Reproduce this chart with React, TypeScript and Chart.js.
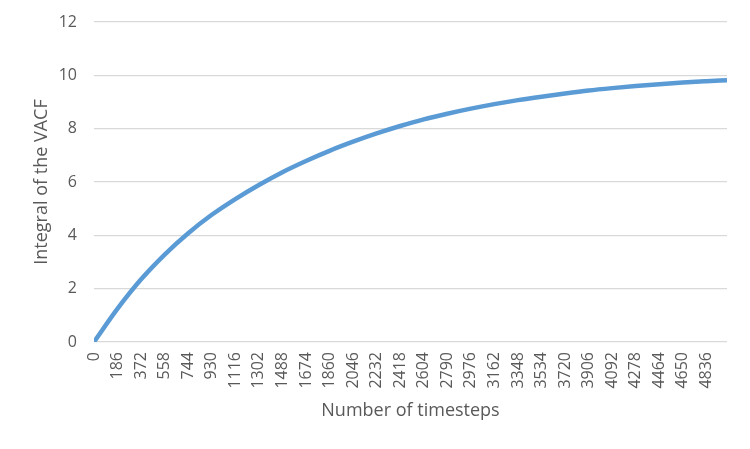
import React, { useEffect, useRef } from "react";
import { Chart, registerables } from "chart.js";

Chart.register(...registerables);

const timesteps = [0, 186, 372, 558, 744, 930, 1116, 1302, 1488, 1674, 1860, 2046, 2232, 2418, 2604, 2790, 2976, 3162, 3348, 3534, 3720, 3906, 4092, 4278, 4464, 4650, 4836, 4999];
const vacfIntegral = [0, 1.25, 2.35, 3.28, 4.08, 4.77, 5.36, 5.89, 6.37, 6.79, 7.17, 7.51, 7.82, 8.10, 8.35, 8.56, 8.75, 8.92, 9.07, 9.20, 9.32, 9.43, 9.52, 9.60, 9.67, 9.73, 9.78, 9.82];
const xTickLabels = [0, 186, 372, 558, 744, 930, 1116, 1302, 1488, 1674, 1860, 2046, 2232, 2418, 2604, 2790, 2976, 3162, 3348, 3534, 3720, 3906, 4092, 4278, 4464, 4650, 4836];
const yTickValues = [0, 2, 4, 6, 8, 10, 12];

const FONT = "'Open Sans', 'Noto Sans', sans-serif";
const TXT = "#595959";

export default function App() {
  const ref = useRef<HTMLCanvasElement>(null);
  useEffect(() => {
    document.body.style.margin = "0";
    const canvas = ref.current;
    if (!canvas) return;
    const chart = new Chart(canvas, {
      type: "line",
      data: {
        datasets: [
          {
            data: timesteps.map((t, i) => ({ x: t, y: vacfIntegral[i] })),
            borderColor: "#5B9BD5",
            borderWidth: 4.5,
            pointRadius: 0,
            cubicInterpolationMode: "monotone",
            fill: false,
          },
        ],
      },
      options: {
        animation: false,
        responsive: false,
        maintainAspectRatio: false,
        layout: { padding: { top: 22, right: 23, bottom: 0, left: 0 } },
        plugins: { legend: { display: false }, tooltip: { enabled: false } },
        scales: {
          x: {
            type: "linear",
            min: 0,
            max: 4999,
            grid: { display: false, drawTicks: false },
            border: { display: false },
            afterBuildTicks: (scale: any) => {
              scale.ticks = xTickLabels.map((v) => ({ value: v }));
            },
            afterFit: (scale: any) => {
              scale.height = 107;
              scale.paddingLeft = 0;
              scale.paddingRight = 0;
            },
            ticks: {
              autoSkip: false,
              minRotation: 90,
              maxRotation: 90,
              padding: 10,
              color: TXT,
              font: { family: FONT, size: 16 },
              callback: (v: any) => String(v),
            },
            title: {
              display: true,
              text: "Number of timesteps",
              color: TXT,
              font: { family: FONT, size: 18 },
              padding: { top: 0, bottom: 27 },
            },
          },
          y: {
            min: 0,
            max: 12,
            grid: { color: "#D9D9D9", lineWidth: 1.3, drawTicks: false },
            border: { display: false },
            afterBuildTicks: (scale: any) => {
              scale.ticks = yTickValues.map((v) => ({ value: v }));
            },
            afterFit: (scale: any) => {
              scale.width = 94;
              scale.paddingTop = 0;
              scale.paddingBottom = 0;
            },
            ticks: {
              padding: 17,
              color: TXT,
              font: { family: FONT, size: 16 },
            },
            title: {
              display: true,
              text: "Integral of the VACF",
              color: TXT,
              font: { family: FONT, size: 18 },
              padding: { top: 31, bottom: 0 },
            },
          },
        },
      },
    });
    return () => chart.destroy();
  }, []);
  return <canvas ref={ref} width={750} height={449} style={{ display: "block" }} />;
}
